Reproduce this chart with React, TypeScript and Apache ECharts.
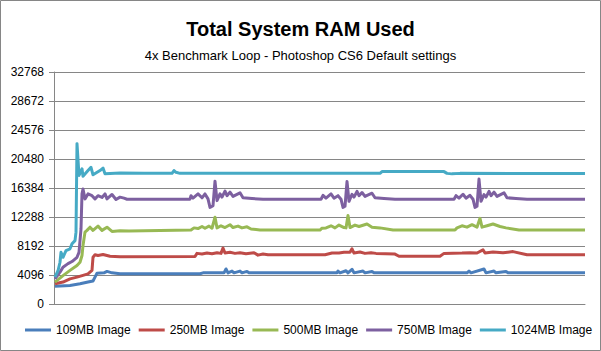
import React, { useEffect, useRef } from "react";
import * as echarts from "echarts";

const seriesNames = ["109MB Image", "250MB Image", "500MB Image", "750MB Image", "1024MB Image"];
const seriesColors = ["#4A7EBB", "#BE4B48", "#98B954", "#7D60A0", "#46AAC5"];
const yMax = 32768;
const yStep = 4096;

// [sample, MB used]
const s109: number[][] = [
  [1, 2500], [16, 2600], [26, 2850], [34, 3100], [39, 3250], [41, 3800], [43, 4350], [50, 4400], [53, 4600], [58, 4400],
  [66, 4280], [146, 4280], [149, 4400], [170, 4400], [172, 4950], [174, 4400], [178, 4650], [180, 4400], [186, 4650],
  [188, 4400], [193, 4600], [195, 4400], [283, 4400], [284, 4650], [286, 4400], [292, 4700], [294, 4400], [298, 4900],
  [300, 4400], [309, 4650], [311, 4400], [318, 4600], [320, 4400], [413, 4400], [415, 4650], [417, 4400], [430, 4950],
  [432, 4400], [440, 4650], [442, 4400], [452, 4600], [454, 4400], [531, 4400],
];

const s250: number[][] = [
  [1, 2850], [9, 3100], [16, 3550], [23, 3800], [29, 4050], [34, 4250], [38, 4750], [39, 6600], [41, 6950], [44, 6850],
  [49, 7000], [56, 6750], [66, 6680], [141, 6700], [143, 7150], [148, 7050], [153, 7200], [158, 7100], [163, 7250],
  [167, 7150], [169, 7900], [171, 7200], [176, 7300], [181, 7150], [186, 7250], [192, 7100], [200, 7250], [204, 6900],
  [209, 7050], [214, 6950], [271, 6950], [278, 7200], [285, 7200], [290, 7300], [296, 7300], [298, 7800], [300, 7200],
  [306, 7350], [311, 7150], [317, 7250], [322, 7150], [341, 7050], [345, 6750], [386, 6750], [390, 7150], [408, 7200],
  [416, 7250], [423, 7200], [429, 7650], [431, 7200], [439, 7350], [449, 7250], [459, 7400], [473, 6950], [531, 6950],
];

const s500: number[][] = [
  [1, 3100], [9, 4000], [16, 4750], [23, 5450], [26, 5900], [28, 6850], [29, 8250], [31, 10150], [33, 10400], [36, 10850],
  [39, 10400], [44, 11000], [48, 10400], [53, 10850], [58, 10250], [66, 10350], [75, 10300], [137, 10450], [140, 10750],
  [144, 10650], [148, 10950], [151, 10700], [155, 11000], [158, 10700], [161, 12250], [163, 10750], [167, 11050],
  [171, 10800], [176, 11200], [179, 10800], [184, 11000], [188, 10750], [193, 10900], [197, 10600], [206, 10450],
  [266, 10450], [268, 10700], [272, 10750], [277, 11050], [281, 10750], [285, 11150], [290, 10800], [292, 10750],
  [294, 12500], [296, 10800], [301, 11150], [305, 10950], [313, 11300], [318, 10850], [326, 10750], [339, 10450],
  [401, 10450], [403, 10750], [408, 11050], [413, 10850], [418, 11200], [423, 10850], [426, 12100], [428, 10850],
  [433, 11050], [439, 11300], [446, 10950], [452, 10750], [465, 10450], [531, 10450],
];

const s750: number[][] = [
  [1, 3550], [6, 4500], [9, 5200], [14, 5700], [18, 6000], [23, 6600], [25, 7300], [27, 10600], [28, 15550], [29, 16250],
  [31, 14850], [34, 15550], [38, 15300], [41, 14850], [44, 15300], [48, 15050], [51, 15550], [53, 14850], [58, 15470],
  [62, 14760], [66, 15090], [70, 14950], [73, 14800], [136, 14800], [137, 15300], [139, 14950], [144, 15550], [148, 15000],
  [151, 15550], [154, 14850], [156, 13650], [159, 13900], [161, 17350], [163, 14600], [166, 15550], [168, 15100],
  [171, 15950], [173, 15300], [176, 15800], [179, 15200], [186, 15700], [189, 15000], [198, 14900], [209, 14800],
  [267, 14800], [269, 15350], [272, 14950], [277, 15550], [280, 14950], [284, 15300], [287, 14800], [289, 13650],
  [291, 13800], [293, 17300], [295, 14500], [298, 15500], [300, 15100], [303, 15900], [305, 15300], [308, 15750],
  [311, 15200], [318, 15650], [321, 15000], [330, 14900], [341, 14800], [400, 14800], [402, 15300], [405, 14950],
  [409, 15500], [412, 14950], [416, 15350], [419, 14800], [421, 13650], [423, 13800], [425, 17650], [427, 14500],
  [430, 15450], [432, 15100], [435, 15900], [437, 15300], [440, 15800], [443, 15200], [450, 15700], [453, 15000],
  [462, 14900], [473, 14800], [531, 14800],
];

const s1024: number[][] = [
  [1, 3800], [4, 4700], [6, 5900], [7, 7300], [9, 6600], [12, 7550], [16, 7800], [18, 8500], [21, 8950], [22, 10150],
  [23, 22650], [25, 18150], [28, 19100], [29, 18050], [34, 18850], [37, 19300], [39, 18250], [46, 18850], [49, 19200],
  [51, 18400], [66, 18500], [90, 18450], [118, 18450], [120, 18850], [122, 18600], [126, 18450], [326, 18450],
  [328, 18700], [390, 18700], [393, 18450], [398, 18380], [406, 18450], [531, 18430],
];

const seriesData = [s109, s250, s500, s750, s1024];

export default function App() {
  const ref = useRef<HTMLDivElement>(null);
  useEffect(() => {
    document.body.style.margin = "0";
    const chart = echarts.init(ref.current!, null, { renderer: "svg" });
    const font = "Liberation Sans, Arial, sans-serif";
    chart.setOption({
      animation: false,
      backgroundColor: "#ffffff",
      title: [
        {
          text: "Total System RAM Used",
          left: "center",
          top: 14,
          textStyle: { fontFamily: font, fontSize: 20, fontWeight: "bold", color: "#000" },
        },
        {
          text: "4x Benchmark Loop - Photoshop CS6 Default settings",
          left: "center",
          top: 44,
          textStyle: { fontFamily: font, fontSize: 13, fontWeight: "normal", color: "#000" },
        },
      ],
      graphic: [
        {
          type: "rect",
          shape: { x: 0.5, y: 0.5, width: 600, height: 350 },
          style: { fill: "none", stroke: "#868686", lineWidth: 1 },
          silent: true,
        },
      ],
      legend: {
        data: seriesNames,
        left: 20,
        top: 319,
        icon: "rect",
        itemWidth: 26,
        itemHeight: 3,
        itemGap: 8,
        textStyle: { fontFamily: font, fontSize: 12, color: "#000" },
      },
      grid: { left: 54, right: 16, top: 72, bottom: 47, containLabel: false },
      xAxis: {
        type: "value",
        min: 0,
        max: 531,
        axisLine: { show: true, lineStyle: { color: "#868686", width: 1 } },
        axisTick: { show: false },
        axisLabel: { show: false },
        splitLine: { show: false },
      },
      yAxis: {
        type: "value",
        min: 0,
        max: yMax,
        interval: yStep,
        axisLine: { show: true, lineStyle: { color: "#868686", width: 1 } },
        axisTick: { show: true, length: 5, lineStyle: { color: "#868686" } },
        axisLabel: {
          fontFamily: font,
          fontSize: 12,
          color: "#000",
          margin: 10,
          formatter: (v: number) => String(v),
        },
        splitLine: { show: true, lineStyle: { color: "#868686", width: 1 } },
      },
      series: seriesNames.map((name, i) => ({
        name,
        type: "line",
        data: seriesData[i],
        showSymbol: false,
        symbol: "none",
        color: seriesColors[i],
        lineStyle: { width: 3, color: seriesColors[i], join: "round" },
      })),
    });
    return () => chart.dispose();
  }, []);
  return <div ref={ref} style={{ width: 601, height: 351 }} />;
}
